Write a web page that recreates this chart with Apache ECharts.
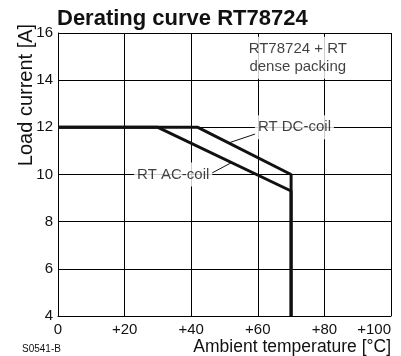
<!DOCTYPE html>
<html>
<head>
<meta charset="utf-8">
<title>Derating curve RT78724</title>
<script src="https://cdn.jsdelivr.net/npm/echarts@6/dist/echarts.min.js"></script>
<style>
    html, body { margin: 0; padding: 0; background: #fff; }
    #chart { width: 401px; height: 356px; }
</style>
</head>
<body>
<div id="chart"></div>
<script>
// Curves: [temperature °C, current A]
const dcTemp = [0, 42, 70, 70];
const dcCurrent = [12, 12, 10, 4];
const acTemp = [0, 30, 70, 70];
const acCurrent = [12, 12, 9.3, 4];

// Leader lines from the labels to the curves
const dcLeader = [[51.5, 11.35], [59.3, 11.72]];
const acLeader = [[46.2, 10.06], [52.3, 10.52]];

// Label anchors
const dcLabelAt = [71, 12];
const acLabelAt = [34.6, 10];
const noteAt = [72, 14.95];

const xTickLabels = ['0', '+20', '+40', '+60', '+80', '+100'];

const narrow = "'Liberation Sans Narrow', 'Liberation Sans', sans-serif";
const sans = "'Liberation Sans', Arial, sans-serif";
const ink = '#111';

function zip(xs, ys) {
    return xs.map(function(x, i) { return [x, ys[i]]; });
}

document.addEventListener('DOMContentLoaded', function() {
    const chart = echarts.init(document.getElementById('chart'));

    const option = {
        animation: false,
        title: {
            text: 'Derating curve RT78724',
            left: 57,
            top: 8,
            padding: 0,
            textStyle: { fontFamily: sans, fontSize: 22, fontWeight: 'bold', color: ink }
        },
        grid: { left: 58, right: 10, top: 33, bottom: 40 },
        xAxis: {
            type: 'value',
            min: 0,
            max: 100,
            interval: 20,
            axisLine: { show: true, lineStyle: { color: '#000', width: 1 } },
            axisTick: { show: false },
            splitLine: { show: true, lineStyle: { color: '#000', width: 1 } },
            axisLabel: {
                color: ink,
                fontFamily: narrow,
                fontSize: 15,
                margin: 6,
                alignMaxLabel: 'right',
                formatter: function(v) { return xTickLabels[Math.round(v / 20)]; }
            }
        },
        yAxis: {
            type: 'value',
            min: 4,
            max: 16,
            interval: 2,
            axisLine: { show: true, lineStyle: { color: '#000', width: 1 } },
            axisTick: { show: false },
            splitLine: { show: true, lineStyle: { color: '#000', width: 1 } },
            axisLabel: { color: ink, fontFamily: narrow, fontSize: 15, margin: 5 }
        },
        graphic: [
            {
                type: 'text',
                x: 26,
                y: 95,
                rotation: Math.PI / 2,
                style: {
                    text: 'Load current [A]',
                    font: '20px ' + sans,
                    fill: ink,
                    textAlign: 'center',
                    textVerticalAlign: 'middle'
                }
            },
            {
                type: 'text',
                right: 10,
                top: 338,
                style: { text: 'Ambient temperature [°C]', font: '17.5px ' + sans, fill: ink }
            },
            {
                type: 'text',
                left: 22,
                top: 344,
                style: { text: 'S0541-B', font: '10px ' + sans, fill: ink }
            }
        ],
        series: [
            {
                name: 'RT AC-coil',
                type: 'line',
                data: zip(acTemp, acCurrent),
                symbol: 'none',
                lineStyle: { color: ink, width: 3 },
                z: 3
            },
            {
                name: 'RT DC-coil',
                type: 'line',
                data: zip(dcTemp, dcCurrent),
                symbol: 'none',
                lineStyle: { color: ink, width: 3 },
                z: 3
            },
            {
                type: 'line',
                data: dcLeader,
                symbol: 'none',
                lineStyle: { color: ink, width: 1 },
                z: 2
            },
            {
                type: 'line',
                data: acLeader,
                symbol: 'none',
                lineStyle: { color: ink, width: 1 },
                z: 2
            },
            {
                type: 'scatter',
                symbolSize: 0,
                z: 4,
                data: [
                    { value: dcLabelAt, label: { formatter: 'RT DC-coil' } },
                    { value: acLabelAt, label: { formatter: 'RT AC-coil' } },
                    {
                        value: noteAt,
                        label: {
                            formatter: 'RT78724 + RT\ndense packing',
                            lineHeight: 18,
                            padding: [3, 3, 3, 3]
                        }
                    }
                ],
                label: {
                    show: true,
                    position: 'inside',
                    color: ink,
                    fontFamily: sans,
                    fontSize: 15,
                    backgroundColor: '#fff',
                    padding: [4, 3, 5, 3]
                }
            }
        ]
    };
    chart.setOption(option);
});
</script>
</body>
</html>
